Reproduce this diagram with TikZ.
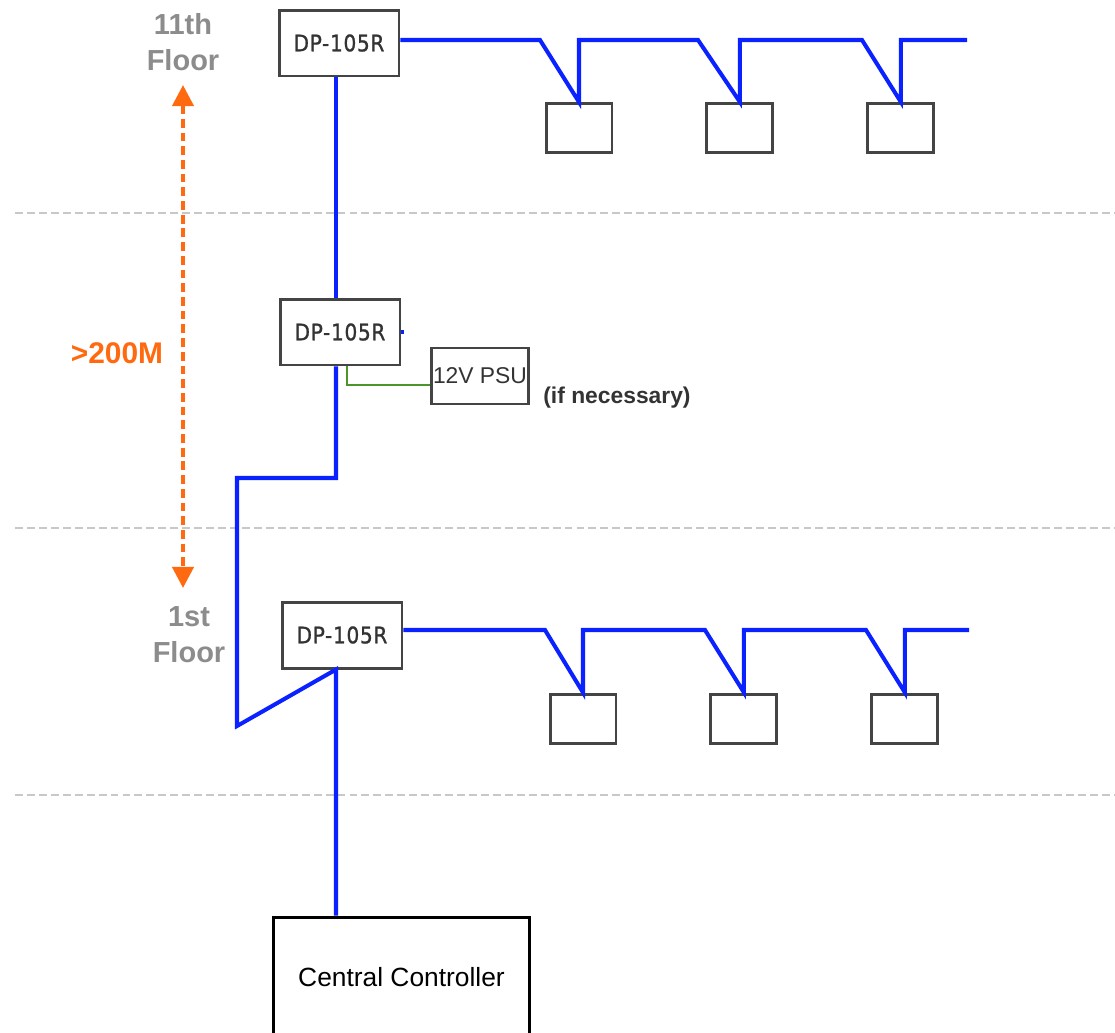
\documentclass[tikz,border=0pt]{standalone}
\usepackage{fontspec}
\setmainfont{Liberation Sans}
\newfontfamily\dpfont{DejaVu Sans}[FakeStretch=0.88, LetterSpace=3, FakeBold=1]
\usetikzlibrary{arrows.meta, positioning}
\definecolor{busblue}{HTML}{0A22FF}
\definecolor{boxgray}{HTML}{444444}
\definecolor{textgray}{HTML}{333333}
\definecolor{floorgray}{HTML}{8C8C8C}
\definecolor{levelgray}{HTML}{C8C8C8}
\definecolor{spanorange}{HTML}{FF6A10}
\definecolor{psugreen}{HTML}{4A962A}

\begin{document}
\begin{tikzpicture}[
    x=0.02cm, y=-0.02cm,
    every node/.style={inner sep=0pt},
    repeater/.style={
        rectangle,
        draw=boxgray,
        line width=1.7pt,
        fill=white,
        minimum width=2.4cm,
        minimum height=1.32cm,
        text=textgray,
        font=\dpfont\fontsize{13}{15}\selectfont
    },
    unit/.style={
        rectangle,
        draw=boxgray,
        line width=1.7pt,
        minimum width=1.32cm,
        minimum height=0.98cm
    },
    psubox/.style={
        rectangle,
        draw=boxgray,
        line width=1.5pt,
        minimum width=1.94cm,
        minimum height=1.12cm,
        text=textgray,
        font=\fontsize{13}{15}\selectfont
    },
    ctrlbox/.style={
        rectangle,
        draw=black,
        line width=1.7pt,
        minimum width=5.14cm,
        minimum height=2.4cm,
        font=\fontsize{15}{18}\selectfont
    },
    floor/.style={font=\bfseries\fontsize{16.5}{20.4}\selectfont, text=floorgray, align=center},
    bus/.style={draw=busblue, line width=2.3pt},
    feed/.style={draw=psugreen, line width=1.4pt},
    level/.style={draw=levelgray, line width=1.3pt, dash pattern=on 4.5pt off 2.3pt},
    span/.style={draw=spanorange, line width=2.2pt, dash pattern=on 5pt off 2.8pt,
        {Triangle[width=12pt, length=12pt]}-{Triangle[width=12pt, length=12pt]}}
]
\useasboundingbox (0,0) rectangle (1115,1032);
\clip (0,0) rectangle (1115,1032);

% floor separators
\draw[level] (15,213) -- (1115,213);
\draw[level] (15,528) -- (1115,528);
\draw[level] (15,795) -- (1115,795);

% repeaters and controller
\node[repeater] (dpA) at (339,43) {DP-105R};
\node[repeater] (dpB) at (340,332) {DP-105R};
\node[repeater] (dpC) at (342,635) {DP-105R};
\node[psubox] (psu) at (480,376) {12V PSU};
\node[ctrlbox] (ctrl) at (401.5,977) {Central Controller};
\coordinate (riser) at (336,0);
\coordinate (jog) at (237,478);

% indoor units, 11th floor
\node[unit] (uA1) at (579,128) {};
\node[unit, right=1.84cm of uA1] (uA2) {};
\node[unit, right=1.84cm of uA2] (uA3) {};

% indoor units, 1st floor
\node[unit] (uC1) at (583,718.5) {};
\node[unit, right=1.84cm of uC1] (uC2) {};
\node[unit, right=1.84cm of uC2] (uC3) {};

% labels
\node[floor] (lblTop) at (183,42) {11th\\Floor};
\node[floor] (lblBottom) at (189,635) {1st\\Floor};
\node[font=\bfseries\fontsize{17}{20}\selectfont, text=spanorange] (lblSpan) at (117,353) {>200M};
\node[font=\bfseries\fontsize{13}{15}\selectfont, text=textgray] (lblNote) at (617,398) {(if necessary)};

% distance
\draw[span] (lblTop.south |- 0,85) -- (lblTop.south |- 0,588);

% bus wiring
\draw[bus] ([yshift=0.06cm]dpA.east) -- (540,40) -- (uA1.north) -- (uA1.north |- 0,40)
    -- (698,40) -- (uA2.north) -- (uA2.north |- 0,40)
    -- (862,40) -- (uA3.north) -- (uA3.north |- 0,40) -- (967,40);
\draw[bus] ([yshift=0.1cm]dpC.east) -- (545,630) -- (uC1.north) -- (uC1.north |- 0,630)
    -- (705,630) -- (uC2.north) -- (uC2.north |- 0,630)
    -- (866,630) -- (uC3.north) -- (uC3.north |- 0,630) -- (969,630);
\draw[bus] (dpA.south -| riser) -- (dpB.north -| riser);
\draw[bus] (dpB.south -| riser) -- (jog -| riser) -- (jog) -- (jog |- 0,726)
    -- (dpC.south -| riser) -- (ctrl.north -| riser);
\draw[bus] (dpB.east) -- ++(3,0);

% power feed
\draw[feed] (dpB.south -| 347,0) -- (347,385) -- (psu.west |- 0,385);

\end{tikzpicture}
\end{document}
